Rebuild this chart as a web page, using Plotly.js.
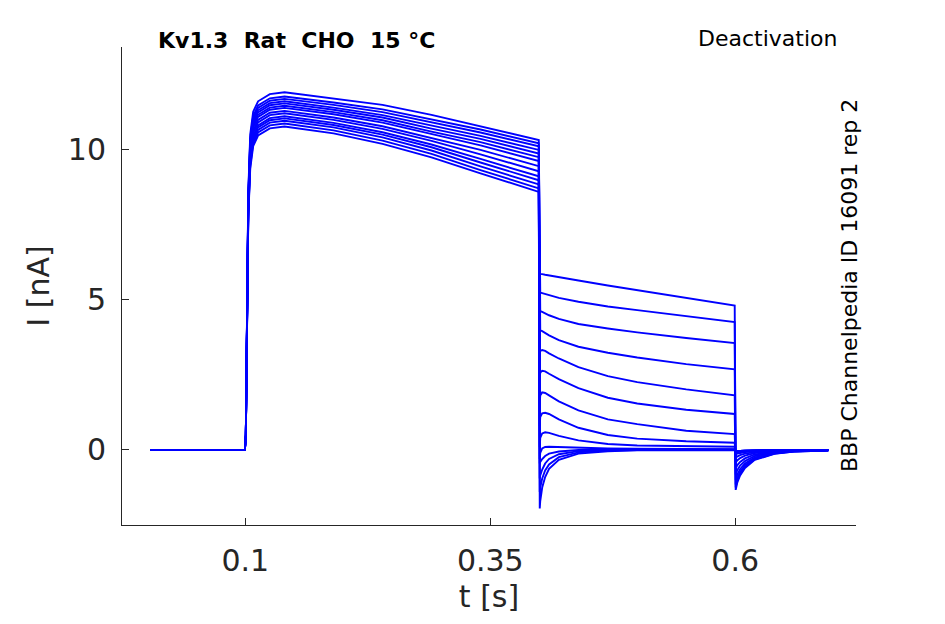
<!DOCTYPE html>
<html>
<head>
<meta charset="utf-8">
<script src="https://cdn.plot.ly/plotly-3.0.1.min.js"></script>
<style>html,body{margin:0;padding:0;background:#fff}</style>
</head>
<body>
<div id="grafico" style="width:945px;height:624px"></div>
<script>
/* =========================================
   DEACTIVATION TRACES
========================================= */

// time knots [s]
let tPre = [0.003, 0.0995];
let tStep = [0.1005, 0.101, 0.102, 0.103, 0.105, 0.108, 0.113, 0.125, 0.14, 0.19, 0.24, 0.29, 0.34, 0.3995];
let tDeact = [0.4005, 0.401, 0.403, 0.406, 0.41, 0.42, 0.44, 0.47, 0.5, 0.55, 0.5995];
let tTail = [0.6005, 0.602, 0.605, 0.61, 0.62, 0.64, 0.66, 0.695];

// current [nA] during the activating step, one row per sweep
let iStep = [
    [0.5, 2.4, 6.20, 8.60, 10.52, 11.27, 11.62, 11.86, 11.92, 11.72, 11.50, 11.17, 10.78, 10.33],
    [0.5, 2.4, 6.13, 8.48, 10.38, 11.13, 11.48, 11.72, 11.78, 11.58, 11.35, 11.01, 10.68, 10.22],
    [0.5, 2.4, 6.08, 8.42, 10.30, 11.05, 11.40, 11.64, 11.70, 11.50, 11.26, 10.91, 10.58, 10.12],
    [0.5, 2.4, 6.04, 8.37, 10.22, 10.97, 11.32, 11.56, 11.62, 11.41, 11.16, 10.81, 10.47, 10.00],
    [0.5, 2.4, 6.01, 8.32, 10.15, 10.90, 11.25, 11.49, 11.55, 11.34, 11.08, 10.71, 10.37, 9.88],
    [0.5, 2.4, 5.96, 8.26, 10.07, 10.82, 11.17, 11.41, 11.47, 11.26, 10.99, 10.61, 10.26, 9.76],
    [0.5, 2.4, 5.93, 8.21, 10.00, 10.75, 11.10, 11.34, 11.40, 11.19, 10.91, 10.52, 10.15, 9.63],
    [0.5, 2.4, 5.88, 8.14, 9.90, 10.65, 11.00, 11.24, 11.30, 11.08, 10.79, 10.40, 10.00, 9.46],
    [0.5, 2.4, 5.83, 8.08, 9.82, 10.57, 10.92, 11.16, 11.22, 11.00, 10.70, 10.30, 9.85, 9.29],
    [0.5, 2.4, 5.78, 8.01, 9.72, 10.47, 10.82, 11.06, 11.12, 10.90, 10.59, 10.18, 9.70, 9.12],
    [0.5, 2.4, 5.75, 7.96, 9.65, 10.40, 10.75, 10.99, 11.05, 10.83, 10.51, 10.09, 9.58, 8.99],
    [0.5, 2.4, 5.70, 7.90, 9.57, 10.32, 10.67, 10.91, 10.97, 10.75, 10.42, 9.98, 9.45, 8.85],
    [0.5, 2.4, 5.66, 7.83, 9.48, 10.23, 10.58, 10.82, 10.88, 10.65, 10.31, 9.87, 9.33, 8.72],
    [0.5, 2.4, 5.61, 7.76, 9.38, 10.13, 10.48, 10.72, 10.78, 10.55, 10.20, 9.75, 9.22, 8.60]
];

// current [nA] during the deactivating step
let iDeact = [
    [5.87, 5.87, 5.86, 5.84, 5.82, 5.76, 5.65, 5.48, 5.32, 5.06, 4.81],
    [5.26, 5.25, 5.23, 5.20, 5.16, 5.07, 4.94, 4.78, 4.66, 4.46, 4.26],
    [4.64, 4.63, 4.60, 4.55, 4.49, 4.37, 4.20, 4.05, 3.92, 3.73, 3.56],
    [3.99, 3.99, 3.96, 3.90, 3.82, 3.66, 3.44, 3.24, 3.08, 2.86, 2.69],
    [3.20, 3.30, 3.33, 3.30, 3.22, 3.05, 2.76, 2.46, 2.26, 2.02, 1.82],
    [2.40, 2.58, 2.64, 2.62, 2.54, 2.36, 2.06, 1.74, 1.55, 1.34, 1.20],
    [1.55, 1.82, 1.92, 1.90, 1.82, 1.62, 1.32, 1.02, 0.86, 0.64, 0.53],
    [0.80, 1.10, 1.22, 1.24, 1.20, 1.02, 0.74, 0.50, 0.38, 0.29, 0.24],
    [0.10, 0.40, 0.55, 0.59, 0.57, 0.47, 0.32, 0.20, 0.15, 0.12, 0.11],
    [-0.30, -0.10, 0.05, 0.10, 0.11, 0.10, 0.07, 0.05, 0.04, 0.03, 0.03],
    [-0.45, -0.40, -0.30, -0.20, -0.12, -0.05, 0.00, 0.02, 0.02, 0.02, 0.02],
    [-0.95, -0.85, -0.65, -0.45, -0.30, -0.14, -0.04, 0.00, 0.01, 0.01, 0.01],
    [-1.40, -1.25, -0.95, -0.68, -0.48, -0.24, -0.08, -0.02, 0.00, 0.00, 0.00],
    [-1.95, -1.70, -1.25, -0.90, -0.63, -0.33, -0.12, -0.04, -0.01, 0.00, 0.00]
];

// tail current [nA] back at holding potential
let iTail = [
    [-1.33, -1.10, -0.85, -0.60, -0.33, -0.13, -0.05, -0.02],
    [-1.25, -1.03, -0.80, -0.56, -0.31, -0.12, -0.05, -0.02],
    [-1.15, -0.95, -0.73, -0.51, -0.28, -0.11, -0.04, -0.02],
    [-1.00, -0.83, -0.64, -0.45, -0.25, -0.10, -0.04, -0.01],
    [-0.82, -0.68, -0.52, -0.37, -0.20, -0.08, -0.03, -0.01],
    [-0.62, -0.51, -0.40, -0.28, -0.15, -0.06, -0.02, -0.01],
    [-0.42, -0.35, -0.27, -0.19, -0.10, -0.04, -0.02, 0.00],
    [-0.26, -0.22, -0.17, -0.12, -0.07, -0.03, -0.01, 0.00],
    [-0.15, -0.12, -0.10, -0.07, -0.04, -0.02, -0.01, 0.00],
    [-0.08, -0.07, -0.05, -0.04, -0.02, -0.01, 0.00, 0.00],
    [-0.04, -0.03, -0.03, -0.02, -0.01, 0.00, 0.00, 0.00],
    [-0.04, -0.03, -0.03, -0.02, -0.01, 0.00, 0.00, 0.00],
    [-0.04, -0.03, -0.03, -0.02, -0.01, 0.00, 0.00, 0.00],
    [-0.04, -0.03, -0.03, -0.02, -0.01, 0.00, 0.00, 0.00]
];

let iPre = [0, 0];

let xTicks = [0.1, 0.35, 0.6];
let xTickText = ["0.1", "0.35", "0.6"];
let yTicks = [0, 5, 10];
let yTickText = ["0", "5", "10"];

let tempo = tPre.concat(tStep, tDeact, tTail);

let traces = iStep.map((linha, k) => ({
    x: tempo,
    y: iPre.concat(linha, iDeact[k], iTail[k]),
    mode: "lines",
    line: {color: "#0000ff", width: 1.9},
    hoverinfo: "skip",
    showlegend: false
}));

let cinza = "#262626";
let nbsp = "\u00a0";

let layout = {
    width: 945,
    height: 624,
    paper_bgcolor: "#ffffff",
    plot_bgcolor: "#ffffff",
    font: {family: "DejaVu Sans", color: cinza},
    margin: {l: 122, r: 89, t: 47, b: 99},
    showlegend: false,

    xaxis: {
        range: [-0.0259, 0.7233],
        tickvals: xTicks,
        ticktext: xTickText,
        tickfont: {size: 30, color: cinza},
        ticks: "inside",
        ticklen: 7,
        tickcolor: cinza,
        ticklabelstandoff: 9,
        showline: true,
        linecolor: cinza,
        linewidth: 1,
        showgrid: false,
        zeroline: false,
        automargin: false,
        title: {text: "t [s]", font: {size: 30, color: cinza}, standoff: 8}
    },

    yaxis: {
        range: [-2.5, 13.43],
        tickvals: yTicks,
        ticktext: yTickText,
        tickfont: {size: 30, color: cinza},
        ticks: "inside",
        ticklen: 7,
        tickcolor: cinza,
        ticklabelstandoff: 9,
        showline: true,
        linecolor: cinza,
        linewidth: 1,
        showgrid: false,
        zeroline: false,
        automargin: false,
        title: {text: "I [nA]", font: {size: 30, color: cinza}, standoff: 9}
    },

    annotations: [
        {
            xref: "paper", yref: "paper",
            x: 0.047, y: 1.0146,
            xanchor: "left", yanchor: "middle",
            text: "<b>Kv1.3" + nbsp + nbsp + "Rat" + nbsp + nbsp + "CHO" + nbsp + nbsp + "15 °C</b>",
            showarrow: false,
            font: {size: 22, color: "#000000"}
        },
        {
            xref: "paper", yref: "paper",
            x: 0.9768, y: 1.017,
            xanchor: "right", yanchor: "middle",
            text: "Deactivation",
            showarrow: false,
            font: {size: 22, color: "#000000"}
        },
        {
            xref: "paper", yref: "paper",
            x: 0.9905, y: 0.5,
            xanchor: "center", yanchor: "middle",
            text: "BBP Channelpedia ID 16091 rep 2",
            textangle: -90,
            showarrow: false,
            font: {size: 22, color: "#000000"}
        }
    ]
};

Plotly.newPlot("grafico", traces, layout, {staticPlot: true});
</script>
</body>
</html>
